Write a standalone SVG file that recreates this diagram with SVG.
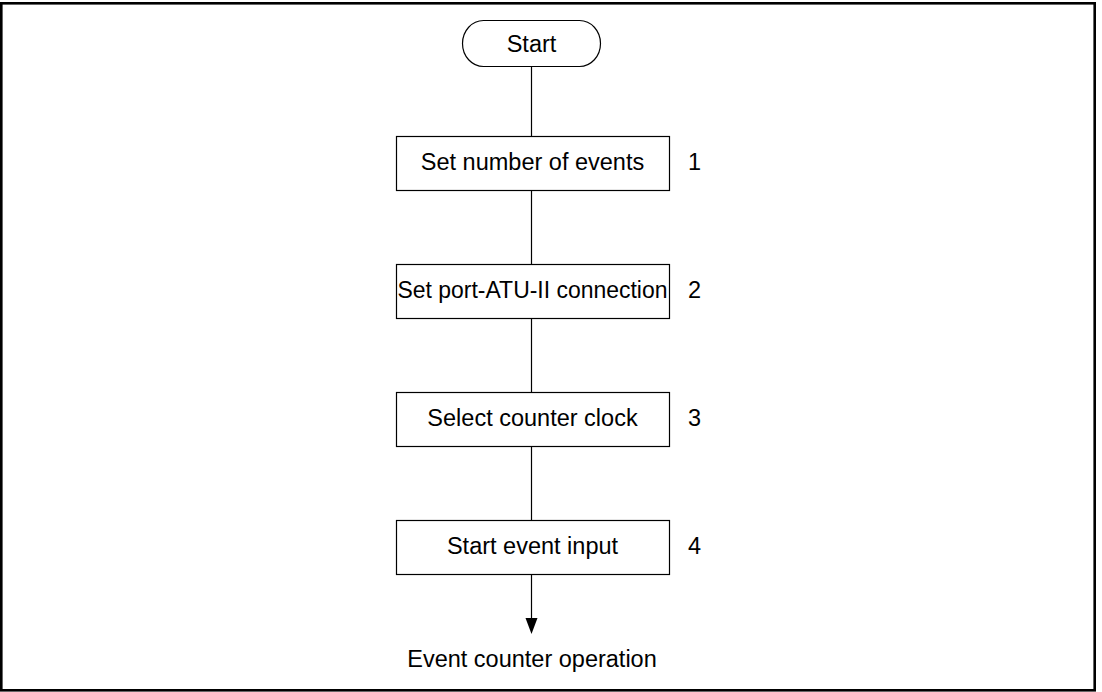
<svg xmlns="http://www.w3.org/2000/svg" width="1102" height="692" viewBox="0 0 1102 692">
  <style>
    .frame { fill: none; stroke: #000; stroke-width: 2.6; }
    .box { fill: #fff; stroke: #000; stroke-width: 1.2; }
    .lbl { font-family: "Liberation Sans", Arial, sans-serif; font-size: 23.5px; fill: #000; text-anchor: middle; }
    .num { font-family: "Liberation Sans", Arial, sans-serif; font-size: 23.5px; fill: #000; }
    .conn { fill: none; stroke: #000; stroke-width: 1.2; }
    .head { fill: #000; stroke: none; }
  </style>
  <rect x="1.3" y="3.3" width="1093.4" height="687" class="frame"/>
  <g id="connectors">
    <line x1="531.5" y1="66" x2="531.5" y2="136" class="conn"/>
    <line x1="531.5" y1="190" x2="531.5" y2="264" class="conn"/>
    <line x1="531.5" y1="318" x2="531.5" y2="392" class="conn"/>
    <line x1="531.5" y1="446" x2="531.5" y2="520" class="conn"/>
    <line x1="531.5" y1="574" x2="531.5" y2="618" class="conn"/>
    <path d="M525.5,618 L537.5,618 L531.5,634 Z" class="head"/>
  </g>
  <g id="start">
    <rect x="462.5" y="20.5" width="138" height="46" rx="21" ry="23" class="box"/>
    <text x="531.5" y="52" class="lbl">Start</text>
  </g>
  <g id="step1">
    <rect x="396.5" y="136.5" width="273" height="54" class="box"/>
    <text x="532.5" y="170" class="lbl">Set number of events</text>
    <text x="688" y="170" class="num">1</text>
  </g>
  <g id="step2">
    <rect x="396.5" y="264.5" width="273" height="54" class="box"/>
    <text x="532.5" y="298" class="lbl" textLength="270" lengthAdjust="spacingAndGlyphs">Set port-ATU-II connection</text>
    <text x="688" y="298" class="num">2</text>
  </g>
  <g id="step3">
    <rect x="396.5" y="392.5" width="273" height="54" class="box"/>
    <text x="532.5" y="426" class="lbl">Select counter clock</text>
    <text x="688" y="426" class="num">3</text>
  </g>
  <g id="step4">
    <rect x="396.5" y="520.5" width="273" height="54" class="box"/>
    <text x="532.5" y="554" class="lbl">Start event input</text>
    <text x="688" y="554" class="num">4</text>
  </g>
  <g id="end">
    <text x="532" y="667" class="lbl">Event counter operation</text>
  </g>
</svg>
